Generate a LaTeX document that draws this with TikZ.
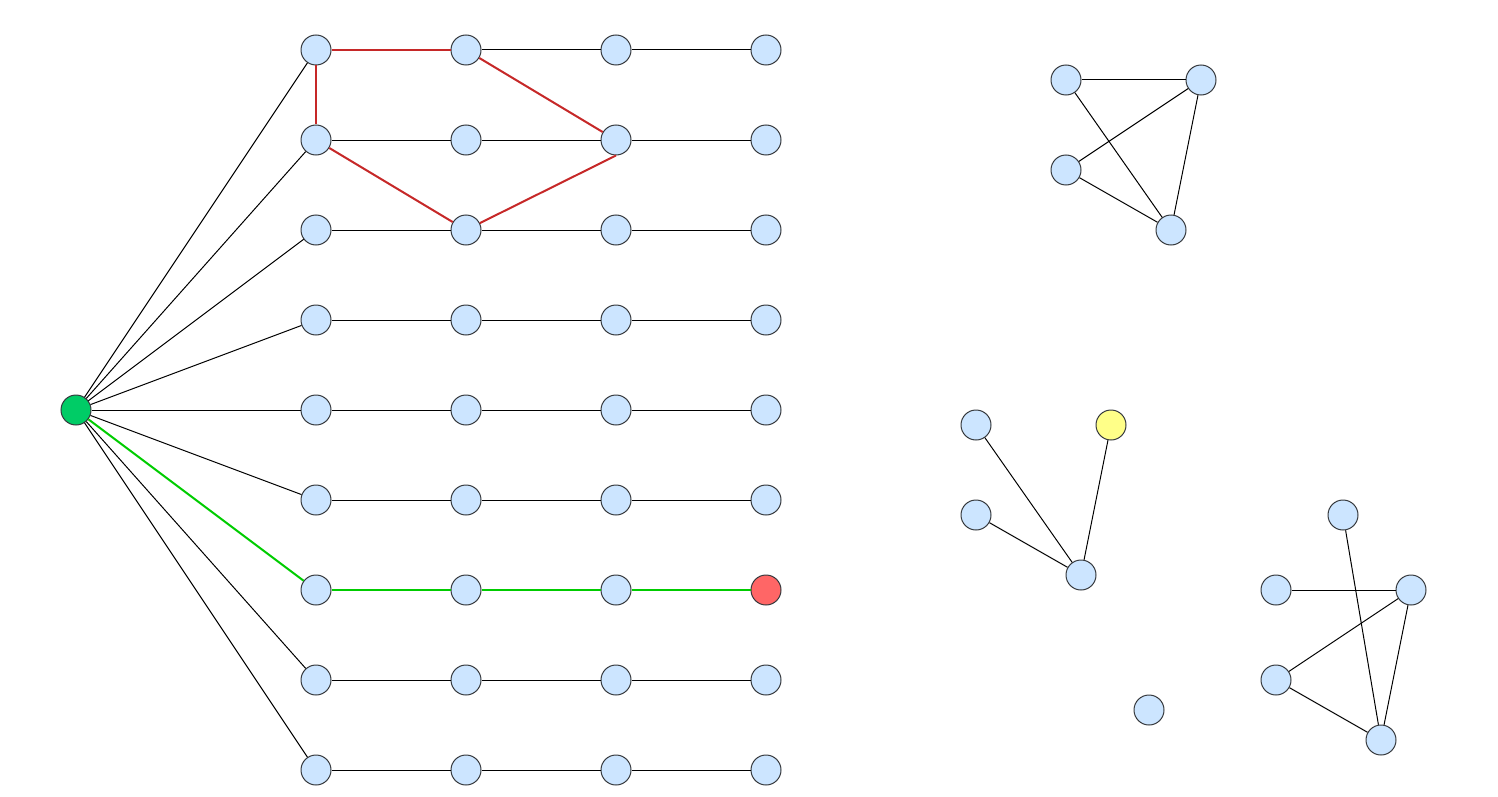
\documentclass[tikz,border=0pt]{standalone}
\begin{document}
\begin{tikzpicture}[x=1pt,y=-1pt,
  vtx/.style={circle,draw=nodeborder,fill=nodeblue,line width=1pt,minimum size=30pt,inner sep=0pt},
  rootv/.style={vtx,fill=rootgreen},
  goalv/.style={vtx,fill=goalred},
  markv/.style={vtx,fill=markyellow},
  edge/.style={draw=black,line width=1pt},
  redge/.style={draw=edgered,line width=2pt},
  gedge/.style={draw=edgegreen,line width=2pt}]
\definecolor{nodeblue}{HTML}{CCE5FF}
\definecolor{nodeborder}{HTML}{36393D}
\definecolor{rootgreen}{HTML}{00CC66}
\definecolor{goalred}{HTML}{FF6666}
\definecolor{markyellow}{HTML}{FFFF88}
\definecolor{edgered}{HTML}{C62828}
\definecolor{edgegreen}{HTML}{00CC00}
\useasboundingbox (0,0) rectangle (1498,797);
% left grid
\node[rootv] (r) at (76,410) {};
\foreach \i/\y in {1/50,2/140,3/230,4/320,5/410,6/500,7/590,8/680,9/770}{
  \node[vtx] (a\i) at (316,\y) {};
  \node[vtx] (b\i) at (466,\y) {};
  \node[vtx] (c\i) at (616,\y) {};
}
\foreach \i/\y in {1/50,2/140,3/230,4/320,5/410,6/500,8/680,9/770}{
  \node[vtx] (d\i) at (766,\y) {};
}
\node[goalv] (d7) at (766,590) {};
% black edges
\foreach \i in {1,2,3,4,5,6,8,9}{
  \draw[edge] (r) -- (a\i);
  \draw[edge] (b\i) -- (c\i);
  \draw[edge] (c\i) -- (d\i);
}
\foreach \i in {2,3,4,5,6,8,9}{
  \draw[edge] (a\i) -- (b\i);
}
% red edges
\draw[redge] (a1) -- (b1);
\draw[redge] (a1) -- (a2);
\draw[redge] (b1) -- (c2);
\draw[redge] (a2) -- (b3);
\draw[redge] (b3) -- (c2.south);
% green path
\draw[gedge] (r) -- (a7);
\draw[gedge] (a7) -- (b7);
\draw[gedge] (b7) -- (c7);
\draw[gedge] (c7) -- (d7);
% cluster 1
\node[vtx] (p1) at (1066,80) {};
\node[vtx] (p2) at (1201,80) {};
\node[vtx] (p3) at (1066,170) {};
\node[vtx] (p4) at (1171,230) {};
\draw[edge] (p1) -- (p2);
\draw[edge] (p1) -- (p4);
\draw[edge] (p3) -- (p2);
\draw[edge] (p3) -- (p4);
\draw[edge] (p2) -- (p4);
% cluster 2
\node[vtx] (q1) at (976,425) {};
\node[markv] (q2) at (1111,425) {};
\node[vtx] (q3) at (976,515) {};
\node[vtx] (q4) at (1081,575) {};
\draw[edge] (q1) -- (q4);
\draw[edge] (q3) -- (q4);
\draw[edge] (q2) -- (q4);
% isolated
\node[vtx] (iso) at (1149,710) {};
% cluster 3
\node[vtx] (s1) at (1343,515) {};
\node[vtx] (s2) at (1276,590) {};
\node[vtx] (s3) at (1411,590) {};
\node[vtx] (s4) at (1276,680) {};
\node[vtx] (s5) at (1381,740) {};
\draw[edge] (s1) -- (s5);
\draw[edge] (s2) -- (s3);
\draw[edge] (s4) -- (s3);
\draw[edge] (s4) -- (s5);
\draw[edge] (s3) -- (s5);
\end{tikzpicture}
\end{document}
